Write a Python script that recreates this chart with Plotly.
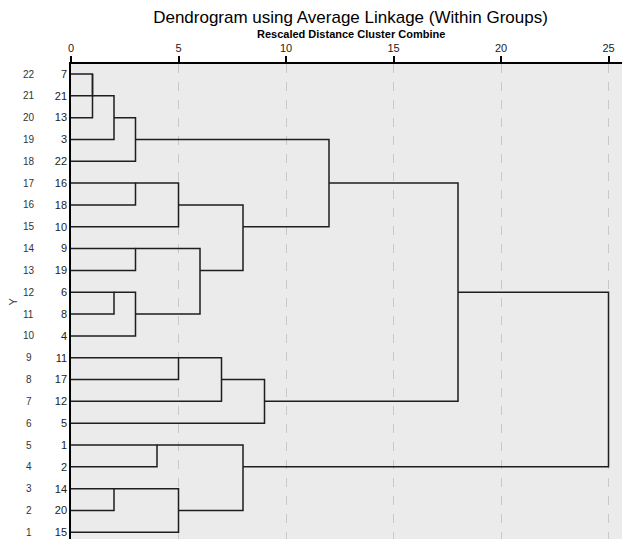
import math
import plotly.graph_objects as go

# ---- data ----
leaf_order = [7, 21, 13, 3, 22, 16, 18, 10, 9, 19, 6, 8, 4, 11, 17, 12, 5, 1, 2, 14, 20, 15]
row_numbers = list(range(22, 0, -1))
merge_a = ['7', 'm0', '6', '14', 'm1', '16', '9', 'm2', 'm4', '1', 'm5', '11', 'm3',
           'm6', 'm11', 'm10', 'm9', 'm14', 'm8', 'm18', 'm19']
merge_b = ['21', '13', '8', '20', '3', '18', '19', '4', '22', '2', '10', '17', '15',
           'm7', '12', 'm13', 'm12', '5', 'm15', 'm17', 'm16']
merge_dist = [1, 1, 2, 2, 2, 3, 3, 3, 3, 4, 5, 5, 5, 6, 7, 8, 8, 9, 12, 18, 25]
x_ticks = [0, 5, 10, 15, 20, 25]

# ---- build dendrogram segments ----
pos = {}
for r, leaf in zip(row_numbers, leaf_order):
    pos[str(leaf)] = (0, r)

xs, ys = [], []
for i, (a, b, d) in enumerate(zip(merge_a, merge_b, merge_dist)):
    xa, ya = pos[a]
    xb, yb = pos[b]
    xs += [xa, d, d, xb, None]
    ys += [ya, ya, yb, yb, None]
    pos['m%d' % i] = (d, math.floor((ya + yb) / 2 + 0.5))

fig = go.Figure()
fig.add_trace(go.Scatter(x=xs, y=ys, mode='lines',
                         line=dict(color='#1e1e1e', width=1.5),
                         hoverinfo='skip', showlegend=False))

FONT = 'Liberation Sans, Arial, sans-serif'

# page body has an 8px margin: figure spans 622x531 so that it ends at 630x539
W, H = 622, 531
ML, MT = 63, 56
plot_w = W - ML
plot_h = H - MT

annotations = []
for r in row_numbers:
    annotations.append(dict(text=str(r), x=(21 - ML) / plot_w, xref='paper', y=r, yref='y',
                            showarrow=False, xanchor='center', yanchor='middle',
                            font=dict(size=10, color='#333333', family=FONT)))
annotations.append(dict(text='Y', x=(4 - ML) / plot_w, xref='paper', y=0.5, yref='paper',
                        textangle=-90, showarrow=False, xanchor='center', yanchor='middle',
                        font=dict(size=11, color='#333333', family=FONT)))
annotations.append(dict(text='<b>Rescaled Distance Cluster Combine</b>', x=0.5, xref='paper',
                        y=1 + (MT - 26) / plot_h, yref='paper', showarrow=False,
                        xanchor='center', yanchor='middle',
                        font=dict(size=11, color='#000000', family=FONT)))

fig.update_layout(
    width=W, height=H,
    margin=dict(l=ML, r=0, t=MT, b=0),
    paper_bgcolor='white',
    plot_bgcolor='#ebebeb',
    title=dict(text='Dendrogram using Average Linkage (Within Groups)',
               x=0.5, xref='paper', xanchor='center',
               y=1 - 9 / H, yref='container', yanchor='middle',
               font=dict(size=17, color='#000000', family=FONT)),
    xaxis=dict(side='top', range=[0, 26.0], tickvals=x_ticks,
               ticktext=[str(t) for t in x_ticks],
               showline=True, linecolor='#000000', linewidth=1.5,
               ticks='outside', ticklen=6, tickcolor='#000000', tickwidth=1.5,
               showgrid=True, gridcolor='#c8c8c8', griddash='dash', gridwidth=1,
               zeroline=False,
               tickfont=dict(size=11, color='#222222', family=FONT)),
    yaxis=dict(range=[0.693, 22.458], tickvals=row_numbers,
               ticktext=[str(v) for v in leaf_order],
               showline=True, linecolor='#000000', linewidth=1.5,
               ticks='', showgrid=False, zeroline=False,
               tickfont=dict(size=11, color='#222222', family=FONT)),
    annotations=annotations,
)

fig.write_html('out.html')
